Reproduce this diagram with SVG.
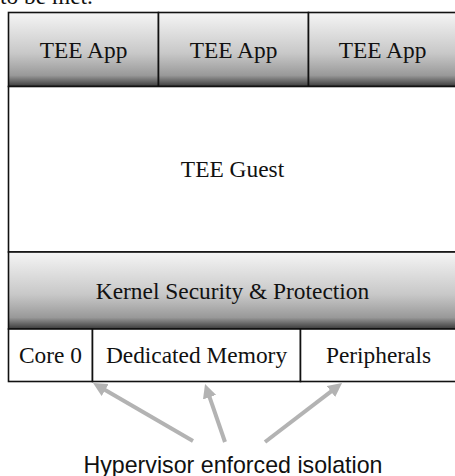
<svg xmlns="http://www.w3.org/2000/svg" width="455" height="476" viewBox="0 0 455 476">
  <defs>
    <linearGradient id="shade" x1="0" y1="0" x2="0" y2="1">
      <stop offset="0" stop-color="#f5f5f5"/>
      <stop offset="0.55" stop-color="#c8c8c8"/>
      <stop offset="0.85" stop-color="#999"/>
      <stop offset="1" stop-color="#3a3a3a"/>
    </linearGradient>
    <marker id="head" markerUnits="userSpaceOnUse" markerWidth="16" markerHeight="16" refX="4" refY="7" orient="auto">
      <path d="M0,0 L14,7 L0,14 z" fill="#b3b3b3"/>
    </marker>
    <style>
      .box { stroke: #111; stroke-width: 1.6; }
      .shaded { fill: url(#shade); }
      .plain { fill: #fff; }
      .serif { font-family: "Liberation Serif", "Times New Roman", serif; font-size: 23.4px; fill: #111; text-anchor: middle; }
      .sans { font-family: "Liberation Sans", Arial, sans-serif; font-size: 23.2px; fill: #111; text-anchor: middle; }
      .conn { stroke: #b3b3b3; stroke-width: 4; fill: none; marker-end: url(#head); }
    </style>
  </defs>
  <rect width="455" height="476" fill="#fff"/>
  <text x="0" y="4" style="font-family: 'Liberation Serif', 'Times New Roman', serif; font-size: 23.4px; fill: #111;">to be met.</text>

  <g id="app1"><rect class="box shaded" x="8.5" y="12.5" width="150" height="74"/><text class="serif" x="83.5" y="57.5">TEE App</text></g>
  <g id="app2"><rect class="box shaded" x="158.5" y="12.5" width="150" height="74"/><text class="serif" x="233.5" y="57.5">TEE App</text></g>
  <g id="app3"><rect class="box shaded" x="308.5" y="12.5" width="149" height="74"/><text class="serif" x="382.5" y="57.5">TEE App</text></g>
  <g id="guest"><rect class="box plain" x="8.5" y="86.5" width="449" height="165.5"/><text class="serif" x="232.5" y="177">TEE Guest</text></g>
  <g id="kernel"><rect class="box shaded" x="8.5" y="252" width="449" height="77"/><text class="serif" x="232.5" y="298.5">Kernel Security &amp; Protection</text></g>
  <g id="core0"><rect class="box plain" x="8.5" y="329" width="84" height="52.5"/><text class="serif" x="50.5" y="363">Core 0</text></g>
  <g id="memory"><rect class="box plain" x="92.5" y="329" width="208" height="52.5"/><text class="serif" x="196.5" y="363">Dedicated Memory</text></g>
  <g id="peripherals"><rect class="box plain" x="300.5" y="329" width="157" height="52.5"/><text class="serif" x="378.5" y="363">Peripherals</text></g>

  <g id="connectors">
    <line class="conn" x1="193" y1="441" x2="101.7" y2="388"/>
    <line class="conn" x1="225" y1="442" x2="208.3" y2="393.4"/>
    <line class="conn" x1="265" y1="442" x2="334.1" y2="389.1"/>
  </g>
  <g id="hv-label"><text class="sans" x="233" y="472.5">Hypervisor enforced isolation</text></g>
</svg>
